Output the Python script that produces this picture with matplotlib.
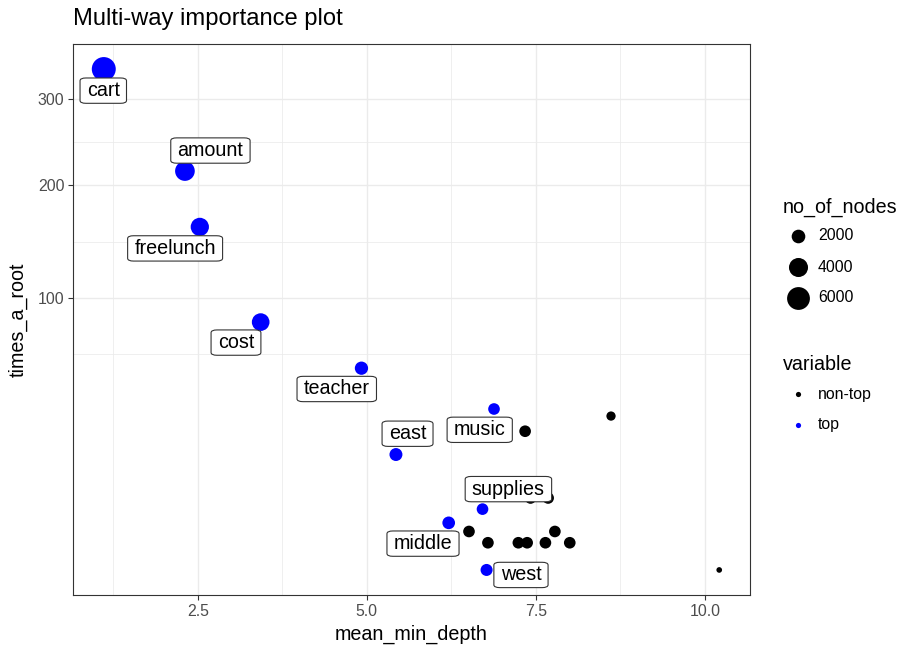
import numpy as np
import matplotlib
matplotlib.use("Agg")
import matplotlib.pyplot as plt
from matplotlib.ticker import FixedLocator, NullFormatter

plt.rcParams["font.family"] = ["Liberation Sans", "DejaVu Sans"]

# ---- data -------------------------------------------------------------
# variables flagged as "top"
top_names = ["cart", "amount", "freelunch", "cost", "teacher",
             "music", "east", "supplies", "middle", "west"]
top_depth = [1.11, 2.31, 2.53, 3.43, 4.92, 6.88, 5.43, 6.71, 6.21, 6.77]
top_root = [339, 215, 159, 83, 55, 35, 18, 5, 3, 0]
top_nodes = [6700, 4300, 3650, 3400, 1900, 1520, 1820, 1520, 1750, 1600]

# remaining ("non-top") variables
other_depth = [7.34, 8.61, 10.21, 7.42, 7.68, 6.51, 6.79, 7.24, 7.37, 7.64, 7.78, 8.00]
other_root = [26, 32, 0, 7, 7, 2, 1, 1, 1, 1, 2, 1]
other_nodes = [1520, 1125, 900, 1520, 1520, 1520, 1520, 1520, 1520, 1520, 1520, 1520]

# label placement (pixel offsets from each point)
label_dx = [-0.5, 25.5, -24.7, -24.7, -24.7, -14.3, 11.6, 25.9, -25.7, 34.4]
label_dy = [-21.6, 20.5, -21.5, -20.5, -20.8, -20.8, 20.8, 20.0, -20.8, -5.0]

size_breaks = [2000, 4000, 6000]
x_breaks = [2.5, 5.0, 7.5, 10.0]
y_breaks = [100, 200, 300]

TOP_COLOR = "#0000FF"
OTHER_COLOR = "#000000"

all_nodes = np.array(top_nodes + other_nodes, dtype=float)
n_lo, n_hi = all_nodes.min(), all_nodes.max()


def marker_area(nodes):
    """Area-scaled marker size (pt^2) on a 1..6 size range."""
    nodes = np.asarray(nodes, dtype=float)
    size = 1 + 5 * np.sqrt(np.clip((nodes - n_lo) / (n_hi - n_lo), 0, None))
    d_px = 2.0 + 3.66 * size
    return (d_px * 0.72) ** 2


def fwd(y):
    y = np.asarray(y, dtype=float)
    return np.sign(y) * np.sqrt(np.abs(y))


def inv(t):
    t = np.asarray(t, dtype=float)
    return np.sign(t) * t ** 2


def minor_between(b):
    """Midpoints between breaks, extended one step on each side."""
    b = np.asarray(b, dtype=float)
    step = b[1] - b[0]
    b = np.concatenate([[b[0] - step], b, [b[-1] + step]])
    return (b[:-1] + b[1:]) / 2


# ---- figure -----------------------------------------------------------
W, H, DPI = 898, 645, 100
fig = plt.figure(figsize=(W / DPI, H / DPI), dpi=DPI)
AX_L, AX_R, AX_T, AX_B = 73, 750, 44, 595
ax = fig.add_axes([AX_L / W, 1 - AX_B / H, (AX_R - AX_L) / W, (AX_B - AX_T) / H])

ax.set_yscale("function", functions=(fwd, inv))

ax.scatter(other_depth, other_root, s=marker_area(other_nodes),
           c=OTHER_COLOR, linewidths=0, zorder=3)
ax.scatter(top_depth, top_root, s=marker_area(top_nodes),
           c=TOP_COLOR, linewidths=0, zorder=3)

# axis limits with 5% expansion (sqrt space on y)
xs = np.array(top_depth + other_depth)
xr = xs.max() - xs.min()
ax.set_xlim(xs.min() - 0.05 * xr, xs.max() + 0.05 * xr)
ts = fwd(np.array(top_root + other_root))
tr = ts.max() - ts.min()
ax.set_ylim(inv(ts.min() - 0.05 * tr), inv(ts.max() + 0.05 * tr))

ax.xaxis.set_major_locator(FixedLocator(x_breaks))
ax.set_xticklabels([f"{v:.1f}" for v in x_breaks])
ax.xaxis.set_minor_locator(FixedLocator(minor_between(x_breaks)))
ax.yaxis.set_major_locator(FixedLocator(y_breaks))
ax.set_yticklabels([str(v) for v in y_breaks])
ax.yaxis.set_minor_locator(FixedLocator(inv(minor_between(fwd(y_breaks)))))
ax.yaxis.set_minor_formatter(NullFormatter())
ax.xaxis.set_minor_formatter(NullFormatter())

ax.grid(which="major", color="#EBEBEB", linewidth=1.0, zorder=0)
ax.grid(which="minor", color="#EBEBEB", linewidth=0.55, zorder=0)
ax.set_axisbelow(True)
ax.tick_params(which="major", length=3.6, width=0.8, color="#333333",
               labelcolor="#4D4D4D", labelsize=11.4, pad=2.6)
ax.tick_params(which="minor", length=0)
for sp in ax.spines.values():
    sp.set_color("#333333")
    sp.set_linewidth(0.8)

ax.set_xlabel("mean_min_depth", fontsize=14.25)
ax.set_ylabel("times_a_root", fontsize=14.25)
ax.xaxis.set_label_coords(0.5, -(634 - AX_B) / (AX_B - AX_T))
ax.xaxis.label.set_va("center")
ax.yaxis.set_label_coords(-(AX_L - 18) / (AX_R - AX_L), 0.5)
ax.yaxis.label.set_va("center")
fig.text(AX_L / W, 1 - 19 / H, "Multi-way importance plot", fontsize=17.1,
         ha="left", va="center")

for name, x, y, dx, dy in zip(top_names, top_depth, top_root, label_dx, label_dy):
    ax.annotate(name, (x, y), xytext=(dx, dy), textcoords="offset pixels",
                ha="center", va="center", fontsize=14.25, zorder=5,
                bbox=dict(boxstyle="round,pad=0.34,rounding_size=0.3",
                          fc="white", ec="#333333", lw=0.8,
                          mutation_aspect=0.47))

# ---- legends (drawn in pixel space) -----------------------------------
leg = fig.add_axes([0, 0, 1, 1], facecolor="none")
leg.set_xlim(0, W)
leg.set_ylim(H, 0)
leg.axis("off")

leg.text(783, 207, "no_of_nodes", fontsize=14.25, ha="left", va="center")
for v, yy in zip(size_breaks, [236, 267, 298]):
    leg.scatter([798], [yy], s=marker_area([v]), c="black", linewidths=0)
    leg.text(818, yy, str(v), fontsize=11.4, ha="left", va="center")

leg.text(783, 365, "variable", fontsize=14.25, ha="left", va="center")
for lab, col, yy in zip(["non-top", "top"], [OTHER_COLOR, TOP_COLOR], [394, 425]):
    leg.scatter([798], [yy], s=(5.2 * 0.72) ** 2, c=col, linewidths=0)
    leg.text(818, yy, lab, fontsize=11.4, ha="left", va="center")

fig.savefig("out.png", dpi=DPI)
